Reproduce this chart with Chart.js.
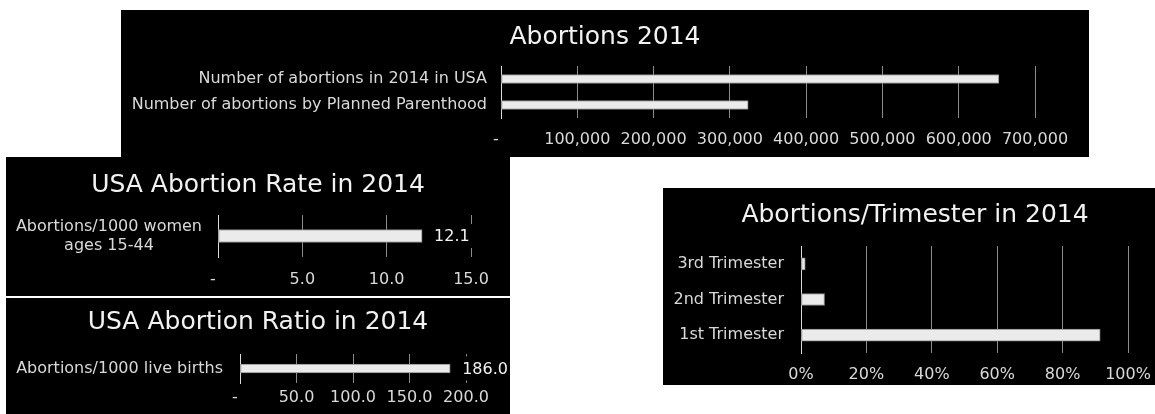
<!DOCTYPE html>
<html>
<head>
<meta charset="utf-8">
<title>Abortions 2014</title>
<script src="https://cdn.jsdelivr.net/npm/chart.js@4/dist/chart.umd.min.js"></script>
<style>
  html, body { margin: 0; padding: 0; background: #fff; }
  body { width: 1155px; height: 414px; position: relative; overflow: hidden; }
  canvas { position: absolute; background: #000; }
</style>
</head>
<body>
<canvas id="countChart" width="968" height="147" style="left:121px;top:10px"></canvas>
<canvas id="rateChart" width="504" height="139" style="left:6px;top:157px"></canvas>
<canvas id="ratioChart" width="504" height="116" style="left:6px;top:298px"></canvas>
<canvas id="trimesterChart" width="504" height="197" style="left:663px;top:188px"></canvas>
<script>
// numbers for 2014
var countLabels = ['Number of abortions in 2014 in USA', 'Number of abortions by Planned Parenthood'];
var countValues = [652639, 323999];
var countTicks = [0, 700000, 100000];   // min, max, step

var rateLabels = [['Abortions/1000 women', 'ages 15-44']];
var rateValues = [12.1];
var rateTicks = [0, 15, 5];

var ratioLabels = ['Abortions/1000 live births'];
var ratioValues = [186.0];
var ratioTicks = [0, 200, 50];

var trimesterLabels = ['1st Trimester', '2nd Trimester', '3rd Trimester'];
var trimesterValues = [91.5, 7.2, 1.3];
var trimesterTicks = [0, 100, 20];

Chart.defaults.font.family = '"DejaVu Sans", Verdana, sans-serif';
Chart.defaults.font.size = 16;
Chart.defaults.color = '#d9d9d9';

// zero shows as a dash, like accounting format
function dashZero(fmt) {
    return function (v) { return v === 0 ? '-  ' : fmt(v); };
}

// value printed right of the bar, on a black box so the grid line breaks
var valueLabel = {
    id: 'valueLabel',
    afterDatasetsDraw: function (chart, args, opts) {
        if (!opts.show) return;
        var ctx = chart.ctx;
        var meta = chart.getDatasetMeta(0);
        ctx.save();
        ctx.font = '16px "DejaVu Sans", Verdana, sans-serif';
        ctx.textBaseline = 'middle';
        ctx.textAlign = 'left';
        meta.data.forEach(function (bar, i) {
            var txt = opts.format(chart.data.datasets[0].data[i]);
            var x = bar.x + opts.offset;
            var w = ctx.measureText(txt).width;
            ctx.fillStyle = '#000';
            ctx.fillRect(x - 3, bar.y - 12, w + 6, 24);
            ctx.fillStyle = '#f2f2f2';
            ctx.fillText(txt, x, bar.y + 1);
        });
        ctx.restore();
    }
};

// an empty axis on the right keeps the margin there without layout padding,
// so the title stays centred on the whole panel
function makeChart(id, p) {
    return new Chart(document.getElementById(id), {
        type: 'bar',
        data: {
            labels: p.labels,
            datasets: [{
                data: p.values,
                backgroundColor: '#ebebeb',
                borderColor: '#8c8c8c',
                borderWidth: 1,
                borderSkipped: false,
                barThickness: p.thickness
            }]
        },
        plugins: [valueLabel],
        options: {
            indexAxis: 'y',
            responsive: false,
            devicePixelRatio: 1,
            animation: false,
            layout: { padding: 0 },
            plugins: {
                legend: { display: false },
                tooltip: { enabled: false },
                title: {
                    display: true,
                    text: p.title,
                    color: '#f2f2f2',
                    font: { size: 25, weight: 'normal' },
                    padding: { top: p.titleTop, bottom: p.titleBottom }
                },
                valueLabel: { show: !!p.valueFormat, format: p.valueFormat, offset: 12 }
            },
            scales: {
                x: {
                    min: p.ticks[0],
                    max: p.ticks[1],
                    ticks: {
                        stepSize: p.ticks[2],
                        padding: p.tickPad,
                        maxRotation: 0,
                        callback: p.tickFormat
                    },
                    grid: { color: '#8c8c8c', drawTicks: false },
                    border: { display: false },
                    afterFit: function (s) { s.height = p.axisHeight; }
                },
                y: {
                    reverse: !!p.reverse,
                    ticks: { padding: p.labelPad, autoSkip: false, crossAlign: p.crossAlign || 'near' },
                    grid: { display: false, drawTicks: false },
                    border: { display: true, color: '#d9d9d9' },
                    afterFit: function (s) { s.width = p.axisLeft; }
                },
                spacer: {
                    type: 'category',
                    axis: 'y',
                    position: 'right',
                    ticks: { display: false },
                    grid: { display: false, drawTicks: false },
                    border: { display: false },
                    afterFit: function (s) { s.width = p.right; }
                }
            }
        }
    });
}

makeChart('countChart', {
    title: 'Abortions 2014',
    labels: countLabels, values: countValues, ticks: countTicks,
    tickFormat: dashZero(function (v) { return v.toLocaleString('en-US'); }),
    thickness: 9, axisLeft: 380, labelPad: 14, right: 54,
    titleTop: 12, titleBottom: 14, axisHeight: 39, tickPad: 12
});

makeChart('rateChart', {
    title: 'USA Abortion Rate in 2014',
    labels: rateLabels, values: rateValues, ticks: rateTicks,
    tickFormat: dashZero(function (v) { return v.toFixed(1); }),
    valueFormat: function (v) { return v.toFixed(1); },
    thickness: 13, axisLeft: 212, labelPad: 16, crossAlign: 'center', right: 39,
    titleTop: 13, titleBottom: 15, axisHeight: 39, tickPad: 13
});

makeChart('ratioChart', {
    title: 'USA Abortion Ratio in 2014',
    labels: ratioLabels, values: ratioValues, ticks: ratioTicks,
    tickFormat: dashZero(function (v) { return v.toFixed(1); }),
    valueFormat: function (v) { return v.toFixed(1); },
    thickness: 9, axisLeft: 234, labelPad: 17, right: 44,
    titleTop: 9, titleBottom: 17, axisHeight: 31, tickPad: 5
});

makeChart('trimesterChart', {
    title: 'Abortions/Trimester in 2014',
    labels: trimesterLabels, values: trimesterValues, ticks: trimesterTicks, reverse: true,
    tickFormat: function (v) { return v + '%'; },
    thickness: 12, axisLeft: 138, labelPad: 17, right: 39,
    titleTop: 12, titleBottom: 16, axisHeight: 32, tickPad: 12
});
</script>
</body>
</html>
